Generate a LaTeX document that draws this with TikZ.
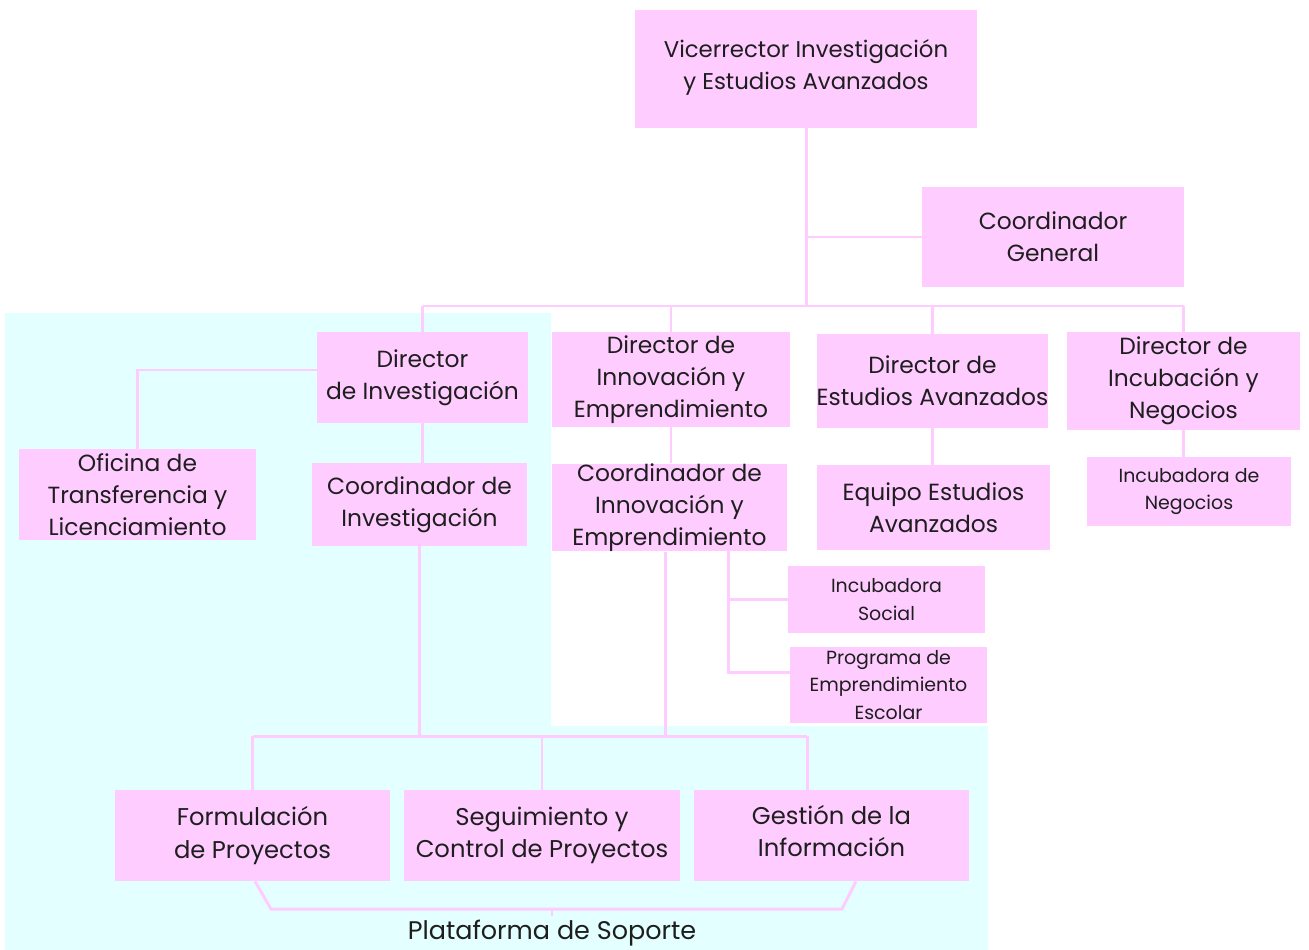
\documentclass[tikz,border=0pt]{standalone}
\usepackage{fontspec}
\setmainfont{Poppins}
\usepackage{tikz}
\usetikzlibrary{positioning}
\definecolor{boxpink}{HTML}{FFCCFF}
\definecolor{bgcyan}{HTML}{E4FFFF}
\definecolor{inktext}{HTML}{1E1E1E}
\tikzset{
	orgbox/.style={fill=boxpink, inner sep=0pt, align=center, text=inktext, font=\fontsize{13.3}{18.2}\selectfont},
	smallbox/.style={orgbox, font=\fontsize{10.8}{15.8}\selectfont},
	lowbox/.style={orgbox, font=\fontsize{13.8}{18.4}\selectfont},
	link/.style={draw=boxpink, line width=1.7pt},
}

\begin{document}
\begin{tikzpicture}[x=0.02cm, y=-0.02cm]
		\useasboundingbox (0,0) rectangle (1309,950);
		\fill[bgcyan] (5,313) -- (551,313) -- (551,726) -- (988,726) -- (988,950) -- (5,950) -- cycle;

		\node[orgbox, minimum width=6.84cm, minimum height=2.36cm, font=\fontsize{13}{18.2}\selectfont] (vice) at (806,69) {Vicerrector Investigación\\y Estudios Avanzados\strut};
		\node[orgbox, minimum width=5.24cm, minimum height=2.0cm] (coordgen) at (1053,237) {Coordinador\\General};
		\node[orgbox, minimum width=4.22cm, minimum height=1.82cm] (dirinv) at (422.5,377.5) {Director\\de Investigación};
		\node[orgbox, minimum width=4.76cm, minimum height=1.9cm] (dirinn) at (671,379.5) {Director de\\Innovación y\\Emprendimiento};
		\node[orgbox, minimum width=4.58cm, minimum height=1.88cm] (direa) at (932.5,381) {Director de\\Estudios Avanzados};
		\node[orgbox, minimum width=4.66cm, minimum height=1.96cm] (dirinc) at (1183.5,381) {Director de\\Incubación y\\Negocios};
		\node[orgbox, minimum width=4.74cm, minimum height=1.82cm] (oficina) at (137.5,494.5) {Oficina de\\Transferencia y\\Licenciamiento};
		\node[orgbox, minimum width=4.3cm, minimum height=1.66cm] (coordinv) at (419.5,504.5) {Coordinador de\\Investigación};
		\node[orgbox, minimum width=4.7cm, minimum height=1.7cm] (coordinn) at (669.5,507.5) {Coordinador de\\Innovación y\\Emprendimiento};
		\node[orgbox, minimum width=4.66cm, minimum height=1.7cm] (equipo) at (933.5,507.5) {Equipo Estudios\\Avanzados};
		\node[smallbox, minimum width=4.08cm, minimum height=1.38cm] (incneg) at (1189,491.5) {Incubadora de\\Negocios};
		\node[smallbox, minimum width=3.94cm, minimum height=1.34cm] (incsoc) at (886.5,599.5) {Incubadora\\Social};
		\node[smallbox, minimum width=3.94cm, minimum height=1.52cm] (progesc) at (888.5,685) {Programa de\\Emprendimiento\\Escolar};
		\node[lowbox, minimum width=5.5cm, minimum height=1.82cm] (formul) at (252.5,835.5) {Formulación\\de Proyectos};
		\node[lowbox, minimum width=5.52cm, minimum height=1.82cm] (seguim) at (542,835.5) {Seguimiento y\\Control de Proyectos};
		\node[lowbox, minimum width=5.5cm, minimum height=1.82cm] (gestion) at (831.5,835.5) {Gestión de la\\Información\strut};
		\node[lowbox, fill=none, inner sep=2pt, font=\fontsize{14.5}{18}\selectfont] (plataforma) at (552,933) {Plataforma de Soporte};

		\coordinate (topbus) at (807,306);
		\coordinate (lowbus) at (419,736);
		\coordinate (gdrop) at (807,736);
		\coordinate (cside) at (728,550);
		\coordinate (bl) at (271,909);
		\coordinate (br) at (842,909);
		\coordinate (bm) at (552,909);

		\draw[link] (vice.south) -- (vice.south |- topbus);
		\draw[link] (vice.south |- coordgen.west) -- (coordgen.west);
		\draw[link] (dirinv.north |- topbus) -- (dirinc.north |- topbus);
		\foreach \n in {dirinv,dirinn,direa,dirinc}
			\draw[link] (\n.north |- topbus) -- (\n.north);
		\draw[link] ([yshift=0.15cm]dirinv.west) -| (oficina.north);
		\draw[link] (dirinv.south) -- (dirinv.south |- coordinv.north);
		\draw[link] (direa.south) -- (direa.south |- equipo.north);
		\draw[link] (dirinc.south) -- (dirinc.south |- incneg.north);
		\draw[link] (dirinn.south) -- (dirinn.south |- coordinn.north);
		\draw[link] (cside) |- ([yshift=0.26cm]progesc.west);
		\draw[link] (cside |- incsoc.west) -- (incsoc.west);
		\draw[link] (coordinv.south) -- (coordinv.south |- lowbus);
		\draw[link] ([xshift=-0.09cm]coordinn.south) -- ([xshift=-0.09cm]coordinn.south |- lowbus);
		\draw[link] (formul.north |- lowbus) -- (gdrop);
		\draw[link] (formul.north |- lowbus) -- (formul.north);
		\draw[link] (seguim.north |- lowbus) -- (seguim.north);
		\draw[link] (gdrop) -- (gdrop |- gestion.north);
		\draw[link] ([xshift=0.05cm]formul.south) -- (bl) -- (br) -- ([xshift=0.49cm]gestion.south);
		\draw[link] (bm) -- (plataforma.north);
	\end{tikzpicture}
\end{document}
